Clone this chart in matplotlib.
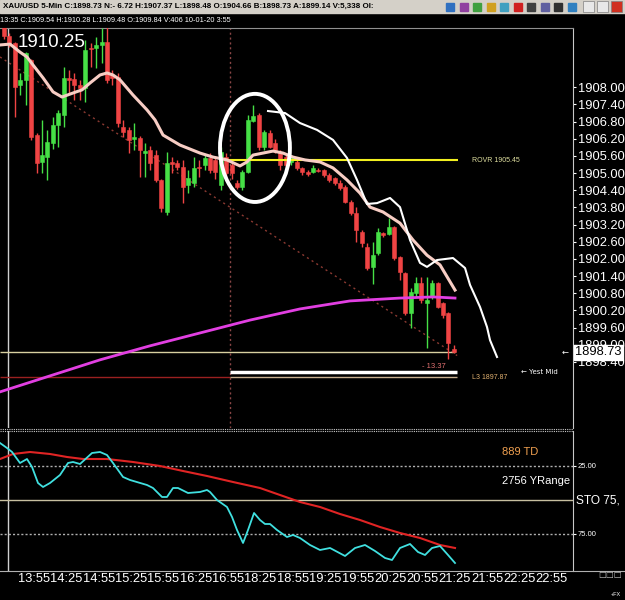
import matplotlib
matplotlib.use('Agg')
import matplotlib.pyplot as plt
from matplotlib.patches import Ellipse, Rectangle
import matplotlib.transforms as mtrans
import numpy as np

plt.rcParams['font.family'] = ['Liberation Sans', 'DejaVu Sans']

# ---------------- data ----------------
opens = [1910.20, 1909.81, 1909.54, 1908.07, 1908.24, 1908.94, 1906.32, 1905.38, 1905.56, 1906.05,
         1906.67, 1907.02, 1908.31, 1908.28, 1908.07, 1907.97, 1909.38, 1909.36, 1909.47, 1909.57,
         1908.42, 1908.35, 1906.60, 1906.50, 1906.20, 1906.22, 1905.70, 1905.80, 1905.63, 1904.75,
         1903.64, 1905.40, 1905.35, 1905.21, 1904.58, 1904.65, 1905.23, 1905.28, 1905.52, 1905.45,
         1904.58, 1905.56, 1905.30, 1904.65, 1904.51, 1905.03, 1906.83, 1907.02, 1905.91, 1906.40,
         1906.05, 1905.73, 1905.56, 1905.38, 1905.38, 1905.17, 1905.03, 1905.03, 1905.12, 1905.10,
         1904.93, 1904.82, 1904.65, 1904.51, 1903.99, 1903.60, 1902.94, 1902.42, 1901.72, 1902.21,
         1902.90, 1902.87, 1903.11, 1902.07, 1901.51, 1900.11, 1900.81, 1901.16, 1900.46, 1900.67,
         1901.16, 1900.46, 1900.11, 1898.85]
highs = [1910.35, 1909.90, 1909.60, 1908.49, 1909.25, 1909.00, 1906.40, 1906.85, 1906.50, 1906.95,
         1907.20, 1908.70, 1908.60, 1908.49, 1908.24, 1909.64, 1909.54, 1909.75, 1910.09, 1910.23,
         1908.60, 1908.50, 1906.85, 1906.60, 1906.74, 1906.30, 1906.05, 1905.95, 1905.80, 1904.80,
         1905.73, 1905.56, 1905.45, 1905.45, 1905.10, 1905.56, 1905.45, 1905.63, 1905.70, 1905.60,
         1905.91, 1905.70, 1905.45, 1904.75, 1905.10, 1907.02, 1907.37, 1907.10, 1906.50, 1906.50,
         1906.20, 1905.80, 1905.65, 1905.63, 1905.45, 1905.20, 1905.10, 1905.28, 1905.17, 1905.14,
         1905.00, 1904.86, 1904.75, 1904.58, 1904.05, 1903.81, 1903.00, 1902.56, 1902.59, 1903.08,
         1902.95, 1903.43, 1903.15, 1902.10, 1901.55, 1900.99, 1901.37, 1901.37, 1901.37, 1901.25,
         1901.19, 1900.50, 1900.15, 1898.99]
lows = [1909.70, 1909.40, 1906.95, 1907.72, 1907.37, 1906.15, 1905.00, 1905.00, 1904.75, 1905.85,
        1905.91, 1906.60, 1907.79, 1907.55, 1907.55, 1907.48, 1908.70, 1908.66, 1908.84, 1908.14,
        1908.07, 1906.60, 1906.25, 1905.70, 1905.80, 1904.86, 1904.86, 1905.10, 1904.68, 1903.64,
        1903.53, 1905.00, 1905.10, 1903.95, 1904.30, 1904.51, 1904.86, 1905.10, 1905.00, 1904.80,
        1904.40, 1904.86, 1904.80, 1904.45, 1904.40, 1905.00, 1906.80, 1905.80, 1905.80, 1905.87,
        1905.70, 1905.10, 1905.20, 1905.30, 1905.10, 1904.95, 1904.90, 1905.00, 1905.03, 1904.86,
        1904.70, 1904.60, 1904.40, 1903.95, 1903.55, 1902.59, 1902.42, 1901.60, 1901.12, 1902.14,
        1902.78, 1902.84, 1901.96, 1901.26, 1900.05, 1899.59, 1900.67, 1900.46, 1898.89, 1900.60,
        1900.29, 1899.95, 1898.50, 1898.70]
closes = [1909.80, 1909.54, 1908.00, 1908.24, 1909.19, 1906.25, 1905.35, 1905.63, 1906.08, 1906.67,
          1907.09, 1908.31, 1908.24, 1908.07, 1907.97, 1909.29, 1909.33, 1909.47, 1909.57, 1908.24,
          1908.31, 1906.74, 1906.43, 1906.15, 1906.25, 1905.80, 1905.77, 1905.35, 1904.75, 1903.78,
          1905.35, 1905.33, 1905.21, 1904.51, 1904.82, 1905.17, 1905.19, 1905.52, 1905.10, 1905.03,
          1905.73, 1905.00, 1905.00, 1904.51, 1905.03, 1906.85, 1906.99, 1905.91, 1906.43, 1905.91,
          1905.80, 1905.28, 1905.28, 1905.56, 1905.17, 1905.03, 1904.98, 1905.17, 1905.08, 1904.93,
          1904.75, 1904.65, 1904.47, 1903.99, 1903.60, 1903.01, 1902.56, 1901.68, 1902.14, 1902.94,
          1902.84, 1903.11, 1902.03, 1901.54, 1900.11, 1900.85, 1901.16, 1900.57, 1900.57, 1901.16,
          1900.32, 1900.04, 1899.06, 1898.73]

# pink moving average (bar index, price)
ma_idx = [-0.74, 1.11, 2.95, 4.24, 5.35, 7.20, 9.04, 10.70, 12.73, 14.39, 15.87, 17.71, 19.00, 20.11,
          21.40, 23.80, 26.38, 27.86, 29.34, 32.47, 36.16, 38.56, 41.14, 43.54, 44.83, 45.94, 47.79,
          49.63, 51.48, 53.32, 55.54, 58.30, 60.70, 63.28, 65.68, 67.53, 69.93, 73.06, 75.46, 78.04,
          80.44, 83.21]
ma_val = [1909.48, 1909.51, 1909.23, 1909.06, 1908.78, 1908.33, 1907.84, 1907.66, 1907.80, 1907.91,
          1908.15, 1908.43, 1908.50, 1908.43, 1908.26, 1907.73, 1907.21, 1906.86, 1906.33, 1905.98,
          1905.70, 1905.56, 1905.46, 1905.25, 1905.39, 1905.63, 1905.70, 1905.77, 1905.70, 1905.56,
          1905.46, 1905.39, 1905.18, 1904.76, 1904.30, 1903.81, 1903.64, 1903.25, 1902.66, 1902.13,
          1901.79, 1900.91]

# white projected line
proj_idx = [48.71, 51.85, 54.61, 57.75, 60.70, 63.28, 65.13, 66.97, 68.82, 71.22, 73.06, 74.91, 76.75,
            78.04, 79.89, 82.84, 85.06, 85.98, 87.82, 89.11, 89.67, 90.96]
proj_val = [1907.17, 1907.10, 1906.75, 1906.51, 1906.16, 1905.53, 1904.76, 1903.92, 1903.95, 1904.13,
            1903.81, 1902.66, 1901.86, 1901.72, 1901.96, 1902.03, 1901.68, 1901.09, 1900.32, 1899.62,
            1899.16, 1898.57]

# magenta long MA
lma_idx = [-0.74, 8.49, 17.71, 26.94, 36.16, 45.39, 54.61, 63.84, 73.06, 79.15, 83.21]
lma_val = [1897.35, 1897.91, 1898.47, 1898.96, 1899.41, 1899.86, 1900.25, 1900.53, 1900.63, 1900.67, 1900.63]

# trendline (dotted)
trend_idx = [-0.74, 83.6]
trend_val = [1909.06, 1898.62]

# levels
rovr_level = 1905.45
yest_mid = 1898.05
l3_level = 1897.87
last_price = 1898.73
top_price = 1910.25

# stochastic panel
k_idx = [-0.74, 0.55, 1.48, 2.95, 4.24, 5.17, 6.27, 7.20, 8.49, 10.33, 11.81, 12.73, 14.02, 16.24,
         17.71, 19.00, 20.11, 21.96, 23.25, 26.38, 27.49, 29.15, 30.07, 31.18, 32.10, 33.95, 36.16,
         37.45, 38.01, 39.30, 41.14, 42.07, 42.99, 44.10, 45.02, 46.13, 47.23, 48.15, 49.08, 50.37,
         52.21, 53.32, 54.61, 56.46, 58.30, 60.15, 62.92, 64.76, 66.61, 68.45, 70.30, 71.59, 73.06,
         74.91, 76.38, 77.68, 78.97, 80.44, 81.92, 83.21]
k_val = [8.38, 12.04, 14.97, 23.02, 20.10, 25.95, 37.66, 40.59, 37.66, 31.81, 23.02, 22.29, 23.76, 15.70,
         14.97, 17.17, 23.02, 33.27, 35.47, 39.13, 41.33, 47.91, 47.91, 41.33, 41.33, 44.99, 44.25,
         42.79, 44.25, 50.11, 55.23, 62.55, 72.07, 81.58, 72.07, 59.63, 64.75, 67.68, 67.68, 72.07,
         77.20, 75.73, 77.93, 83.05, 86.71, 85.25, 91.10, 85.25, 83.05, 87.44, 92.57, 94.03, 85.25,
         82.32, 88.18, 90.37, 85.25, 83.78, 90.37, 96.23]
d_idx = [-0.74, 1.66, 4.80, 8.49, 11.62, 14.58, 19.00, 23.80, 28.78, 33.03, 37.45, 42.25, 47.23,
         50.92, 54.61, 58.30, 61.99, 65.68, 69.37, 73.06, 76.75, 80.44, 83.21]
d_val = [20.10, 16.43, 14.97, 16.43, 18.63, 20.10, 20.10, 22.29, 25.22, 28.88, 32.54, 36.93, 41.33,
         46.45, 51.57, 55.23, 60.36, 64.75, 69.88, 74.27, 77.93, 83.05, 85.25]

price_ticks = [1898.40, 1899.00, 1899.60, 1900.20, 1900.80, 1901.40, 1902.00, 1902.60, 1903.20,
               1903.80, 1904.40, 1905.00, 1905.60, 1906.20, 1906.80, 1907.40, 1908.00]
sto_ticks = [25, 75]
time_labels = ['13:55', '14:25', '14:55', '15:25', '15:55', '16:25', '16:55', '18:25', '18:55',
               '19:25', '19:55', '20:25', '20:55', '21:25', '21:55', '22:25', '22:55']

title1 = ('XAU/USD 5-Min C:1898.73 N:- 6.72 H:1907.37 L:1898.48 O:1904.66 '
          'B:1898.73 A:1899.14 V:5,338 OI:')
title2 = '13:35 C:1909.54 H:1910.28 L:1909.48 O:1909.84 V:406 10-01-20 3:55'

# ---------------- layout ----------------
W, H = 625, 600
fig = plt.figure(figsize=(W / 100, H / 100), dpi=100, facecolor='black')

def fy(py):
    return 1 - py / H

ax = fig.add_axes([0, fy(428), 573 / W, (428 - 28) / H], facecolor='black')
ax2 = fig.add_axes([0, fy(571), 573 / W, (571 - 431) / H], facecolor='black')

XL = (-0.74, 104.98)
ax.set_xlim(*XL)
ax.set_ylim(1896.087, 1910.073)
ax2.set_xlim(*XL)
ax2.set_ylim(102.09, -0.40)

GREEN = '#46e046'
RED = '#f04444'

x = np.arange(len(opens))
o = np.array(opens); c = np.array(closes); hi = np.array(highs); lo = np.array(lows)
up = c >= o
cols = np.where(up, GREEN, RED)
ax.vlines(x, lo, hi, colors=cols, linewidth=1, zorder=3)
body_lo = np.minimum(o, c)
body_h = np.maximum(np.abs(c - o), 0.04)
ax.bar(x, body_h, bottom=body_lo, width=0.74, color=cols, edgecolor=cols, linewidth=0.4, zorder=4)

# indicator lines
ax.plot(lma_idx, lma_val, color='#e23fe2', lw=2.0, zorder=5)
ax.plot(ma_idx, ma_val, color='#f7cdc4', lw=2.2, zorder=6)
ax.plot(proj_idx, proj_val, color='white', lw=1.5, zorder=6)
ax.plot(trend_idx, trend_val, color='#8c3a32', lw=1.0, ls=(0, (1.5, 2.5)), zorder=2)

# separators
sep_idx = 41.7
ax.axvline(sep_idx, color='#8a4646', lw=1, ls=(0, (1.5, 2)), zorder=1)
cursor_idx = 0.74
ax.axvline(cursor_idx, color='#d0d0d0', lw=1, zorder=2)
ax2.axvline(cursor_idx, color='#d0d0d0', lw=1, zorder=2)

# levels
ax.hlines(rovr_level, 40.8, 83.8, color='#f2f020', lw=1.5, zorder=5)
ax.hlines(last_price, -0.74, 83.2, color='#d8d0a0', lw=1.0, zorder=2)
ax.hlines(yest_mid, sep_idx, 83.6, color='white', lw=2.5, zorder=2)
ax.hlines(l3_level, -0.74, sep_idx, color='#9a2020', lw=1.0, zorder=2)
ax.hlines(l3_level, sep_idx, 83.6, color='#c8b090', lw=1.0, zorder=2)

ax.text(86.35, rovr_level, f'ROVR {rovr_level:.2f}', color='#e0e0a0', fontsize=5, va='center')
ax.text(86.35, l3_level, f'L3 {l3_level:.2f}', color='#e0b070', fontsize=5, va='center')
ax.text(77.1, 1898.22, '- 13.37', color='#e07070', fontsize=5.5, va='center')
ax.text(95.4, yest_mid, '\u2190 Yest Mid', color='white', fontsize=5, va='center',
        family=['DejaVu Sans'])
ax.text(2.58, 1909.58, f'{top_price:.2f}', color='white', fontsize=13.5, va='center')

# circle annotation
ax.add_patch(Ellipse((46.3, 1905.88), 12.9, 3.78, fill=False, edgecolor='white', lw=2.8, zorder=7))

# axes styling
for a in (ax, ax2):
    for s in ('left', 'bottom'):
        a.spines[s].set_visible(False)
    a.spines['right'].set_color('#c8c8c8')
    a.spines['top'].set_visible(False)
    a.yaxis.tick_right()
    a.tick_params(axis='y', colors='white', length=2, width=0.8, pad=1.5)
    a.set_xticks([])
ax.spines['top'].set_visible(True)
ax.spines['top'].set_color('#909090')

ax.set_yticks(price_ticks)
ax.set_yticklabels([f'{t:.2f}' for t in price_ticks], fontsize=9.3, color='white')
ax2.set_yticks(sto_ticks)
ax2.set_yticklabels([f'{t:.2f}' for t in sto_ticks], fontsize=5.5, color='white')

# last price box
blend = mtrans.blended_transform_factory(ax.transAxes, ax.transData)
ax.text(1.004, last_price, f'{last_price:.2f}', transform=blend, fontsize=9.3, color='black',
        va='center', ha='left', clip_on=False, zorder=10,
        bbox=dict(boxstyle='square,pad=0.12', fc='white', ec='white'))
ax.text(0.986, last_price, '\u2190', transform=blend, fontsize=6, color='white',
        va='center', ha='center', clip_on=False, family=['DejaVu Sans'])

# stochastic panel
ax2.axhline(25, color='#b0b0b0', lw=1, ls=(0, (1.5, 1.5)))
ax2.axhline(75, color='#b0b0b0', lw=1, ls=(0, (1.5, 1.5)))
ax2.axhline(50, color='#c8c0a0', lw=1)
ax2.plot(d_idx, d_val, color='#e02424', lw=1.5, zorder=4)
ax2.plot(k_idx, k_val, color='#40e0e0', lw=1.3, zorder=5)
ax2.text(91.9, 15.0, '889 TD', color='#f0a050', fontsize=8, va='center')
ax2.text(91.9, 36.2, '2756 YRange', color='white', fontsize=8, va='center')
blend2 = mtrans.blended_transform_factory(ax2.transAxes, ax2.transData)
ax2.text(1.005, 50.8, 'STO 75,', transform=blend2, color='white', fontsize=8.6, va='center',
         clip_on=False)

# separator between panels (dotted double line)
for py in (428.5, 430.5):
    fig.add_artist(plt.Line2D([0, 573 / W], [fy(py), fy(py)], color='#c8c8c8', lw=0.8,
                              ls=(0, (1, 1))))
# bottom border
fig.add_artist(plt.Line2D([0, 1], [fy(571), fy(571)], color='#b0b0b0', lw=0.8))

# time labels
label_start = 2.58
label_step = 5.97
for k, lab in enumerate(time_labels):
    xi = label_start + label_step * k
    px = (xi - XL[0]) / (XL[1] - XL[0]) * 573
    fig.text(px / W, fy(579), lab, color='white', fontsize=9.3, ha='left', va='center')

fig.text(598 / W, fy(575), '\u25a1\u25a1\u25a1', color='#c0c0c0', fontsize=6, va='center',
         family=['DejaVu Sans'])
fig.text(611 / W, fy(594), '+FX', color='white', fontsize=4, va='center')

# title bar
fig.add_artist(Rectangle((0, fy(13)), 1, 13 / H, transform=fig.transFigure, color='#d4d0c8', zorder=0))
fig.text(3 / W, fy(6.5), title1, color='black', fontsize=5.8, weight='bold', va='center')
fig.text(0, fy(20), title2, color='white', fontsize=5.3, va='center')

# toolbar icons
icon_cols = ['#3070c0', '#9040a0', '#40a040', '#d0a020', '#40a0c0', '#d02020', '#404040',
             '#6060a0', '#303030', '#3080c0']
for k, ccol in enumerate(icon_cols):
    fig.add_artist(Rectangle(((446 + k * 13.5) / W, fy(11)), 8 / W, 8 / H,
                             transform=fig.transFigure, color=ccol, zorder=1))
for k, ccol in enumerate(['#e8e8e8', '#e8e8e8', '#d03020']):
    fig.add_artist(Rectangle(((583 + k * 14) / W, fy(11.5)), 11 / W, 10 / H,
                             transform=fig.transFigure, fc=ccol, ec='#808080', lw=0.5, zorder=1))

fig.savefig('out.png', dpi=100, facecolor='black')
